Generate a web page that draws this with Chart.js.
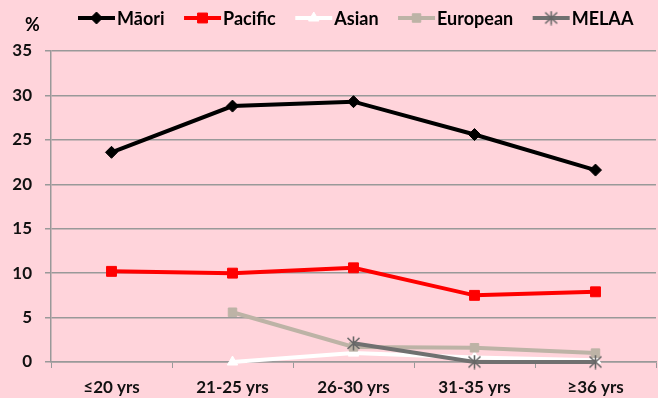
<!DOCTYPE html>
<html><head><meta charset="utf-8">
<script src="https://cdn.jsdelivr.net/npm/chart.js@4.4.0/dist/chart.umd.min.js"></script>
<style>
html,body{margin:0;padding:0;background:#FFD4DB;}
#wrap{width:658px;height:398px;position:relative;}
</style></head>
<body><div id="wrap"><canvas id="c" width="658" height="398"></canvas></div>
<script>
const categories = ['≤20 yrs','21-25 yrs','26-30 yrs','31-35 yrs','≥36 yrs'];
const maori    = [23.6, 28.8, 29.3, 25.6, 21.6];
const pacific  = [10.2, 10.0, 10.6, 7.5, 7.9];
const asian    = [null, 0.0, 1.0, 0.5, 0.2];
const european = [null, 5.6, 1.7, 1.6, 1.0];
const melaa    = [null, null, 2.1, 0.0, 0.0];
const yTicks   = [0, 5, 10, 15, 20, 25, 30, 35];

const FONT = "Lato,'Liberation Sans',sans-serif";
const WEIGHT = 'bold';

// asterisk marker (X plus vertical bar) like the reference
function makeAsterisk(color){
  const c = document.createElement('canvas');
  c.width = 15; c.height = 15;
  const g = c.getContext('2d');
  g.strokeStyle = color; g.lineWidth = 1.6;
  g.beginPath();
  g.moveTo(7.5, 0.5); g.lineTo(7.5, 14.5);
  g.moveTo(1.5, 2); g.lineTo(13.5, 13);
  g.moveTo(13.5, 2); g.lineTo(1.5, 13);
  g.stroke();
  return c;
}

const series = [
  {label:'Māori', data:maori, color:'#000000', style:'rectRot', r:6, lw:4},
  {label:'Pacific', data:pacific, color:'#FF0000', style:'rect', r:7, lw:4},
  {label:'Asian', data:asian, color:'#FFFFFF', style:'triangle', r:6, lw:4},
  {label:'European', data:european, color:'#BDB3A6', style:'rect', r:6, lw:4},
  {label:'MELAA', data:melaa, color:'#707070', style:makeAsterisk('#666666'), r:7, lw:4}
];

const legendPlugin = {
  id:'customLegend',
  afterDraw(chart){
    const ctx = chart.ctx;
    ctx.save();
    ctx.font = WEIGHT + " 18px " + FONT;
    ctx.textBaseline = 'middle';
    ctx.textAlign = 'left';
    ctx.fillStyle = '#000';
    ctx.fillText('%', 25, 25);
    let x = 78;
    const y = 18;
    chart.data.datasets.forEach((ds) => {
      ctx.strokeStyle = ds.borderColor;
      ctx.lineWidth = ds.borderWidth;
      ctx.beginPath(); ctx.moveTo(x, y); ctx.lineTo(x + 37, y); ctx.stroke();
      ctx.fillStyle = ds.pointBackgroundColor;
      ctx.strokeStyle = ds.pointBorderColor;
      ctx.lineWidth = ds.pointBorderWidth;
      Chart.helpers.drawPoint(ctx, {pointStyle: ds.pointStyle, radius: ds.pointRadius, rotation: 0, borderWidth: ds.pointBorderWidth}, x + 18.5, y);
      ctx.fillStyle = '#000';
      ctx.fillText(ds.label, x + 39, y + 1.5);
      x += 39 + ctx.measureText(ds.label).width + 19.5;
    });
    ctx.restore();
  }
};

new Chart(document.getElementById('c'), {
  type:'line',
  data:{
    labels: categories,
    datasets: series.map((s, i) => ({
      label: s.label, data: s.data,
      borderColor: s.color, backgroundColor: s.color,
      borderWidth: s.lw,
      pointStyle: s.style, pointRadius: s.r, pointHoverRadius: s.r,
      pointBackgroundColor: s.color,
      pointBorderColor: s.color,
      pointBorderWidth: 1,
      tension: 0, spanGaps: false, fill: false,
      clip: false,
      order: series.length - i
    }))
  },
  options:{
    responsive:false, animation:false,
    layout:{autoPadding:false, padding:{top:51, right:2, left:0, bottom:0}},
    plugins:{legend:{display:false}, tooltip:{enabled:false}},
    scales:{
      x:{
        offset:true,
        grid:{display:true, drawOnChartArea:false, drawTicks:true, tickLength:6, color:'#999', offset:true},
        border:{display:true, color:'#999', width:1.5},
        ticks:{color:'#111', padding:9, font:{family:FONT, size:17, weight:WEIGHT}, maxRotation:0, autoSkip:false},
        afterFit(s){ s.height = 36; s.paddingLeft = 0; s.paddingRight = 0; }
      },
      y:{
        min:0, max:35,
        afterBuildTicks(s){ s.ticks = yTicks.map(v => ({value:v})); },
        grid:{color:'#999', lineWidth:1.5, tickLength:6, drawTicks:true},
        border:{display:true, color:'#999', width:1.5},
        ticks:{color:'#111', padding:13, font:{family:FONT, size:17, weight:WEIGHT}},
        afterFit(s){ s.width = 51; s.paddingTop = 0; s.paddingBottom = 0; }
      }
    }
  },
  plugins:[legendPlugin]
});
</script></body></html>
